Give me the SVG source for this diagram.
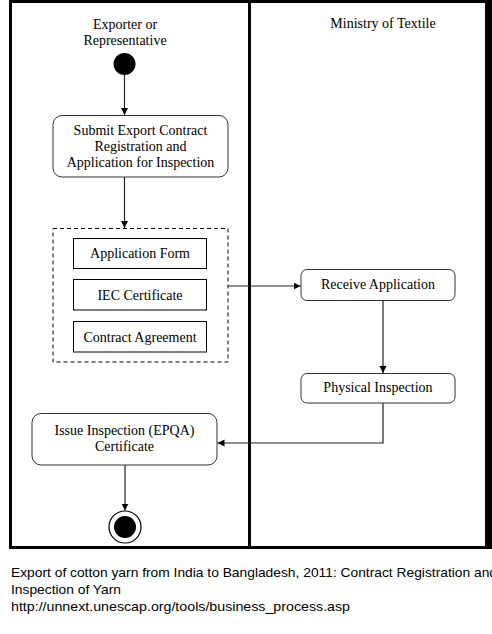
<svg xmlns="http://www.w3.org/2000/svg" width="492" height="634" viewBox="0 0 492 634">
<defs>
<marker id="ah" markerWidth="8" markerHeight="8" refX="7" refY="4" orient="auto" markerUnits="userSpaceOnUse">
<path d="M0,0.5 L7,4 L0,7.5 Z" fill="#000"/>
</marker>
<style>
.t{font-family:"Liberation Serif","Times New Roman",serif;font-size:14px;fill:#000;text-anchor:middle}
.c{font-family:"Liberation Sans",Arial,sans-serif;font-size:13.5px;fill:#000}
.act{fill:#fff;stroke:#333;stroke-width:1}
.doc{fill:#fff;stroke:#000;stroke-width:1}
.ln{fill:none;stroke:#222;stroke-width:1.2}
</style>
</defs>
<rect width="492" height="634" fill="#fff"/>
<g id="frame">
<rect x="10.5" y="1.5" width="476" height="546" fill="none" stroke="#000" stroke-width="3"/>
<rect x="486" y="0" width="6" height="549" fill="#000"/>
<line x1="249.5" y1="0" x2="249.5" y2="548" stroke="#000" stroke-width="3"/>
</g>
<g id="lane-exporter">
<text class="t" x="125" y="29">Exporter or</text>
<text class="t" x="125" y="45">Representative</text>
</g>
<g id="lane-ministry">
<text class="t" x="383" y="28">Ministry of Textile</text>
</g>
<g id="start"><circle cx="124.5" cy="64" r="11" fill="#000"/></g>
<g id="submit">
<rect class="act" x="53" y="115.5" width="175" height="61.5" rx="9"/>
<text class="t" x="140.5" y="135">Submit Export Contract</text>
<text class="t" x="140.5" y="151">Registration and</text>
<text class="t" x="140.5" y="167">Application for Inspection</text>
</g>
<g id="documents">
<rect x="53" y="228.5" width="175" height="133.5" fill="none" stroke="#000" stroke-width="1" stroke-dasharray="4,3"/>
<g id="app-form">
<rect class="doc" x="73.5" y="238.5" width="133" height="30"/>
<text class="t" x="140" y="258">Application Form</text>
</g>
<g id="iec">
<rect class="doc" x="73.5" y="279.5" width="133" height="30.5"/>
<text class="t" x="140" y="299.5">IEC Certificate</text>
</g>
<g id="contract">
<rect class="doc" x="73.5" y="321.5" width="133" height="30.5"/>
<text class="t" x="140" y="341.5">Contract Agreement</text>
</g>
</g>
<g id="receive">
<rect class="act" x="301" y="269.5" width="154" height="31" rx="6"/>
<text class="t" x="378" y="289">Receive Application</text>
</g>
<g id="physical">
<rect class="act" x="301" y="373.5" width="154" height="29.5" rx="6"/>
<text class="t" x="378" y="392">Physical Inspection</text>
</g>
<g id="issue">
<rect class="act" x="32" y="413.5" width="185" height="51.5" rx="9"/>
<text class="t" x="124.5" y="435">Issue Inspection (EPQA)</text>
<text class="t" x="124.5" y="451">Certificate</text>
</g>
<g id="end">
<circle cx="125" cy="527" r="16" fill="#fff" stroke="#000" stroke-width="1.2"/>
<circle cx="125" cy="527" r="11" fill="#000"/>
</g>
<g id="connectors">
<line class="ln" x1="124.5" y1="75" x2="124.5" y2="115" marker-end="url(#ah)"/>
<line class="ln" x1="124.5" y1="177" x2="124.5" y2="228" marker-end="url(#ah)"/>
<line class="ln" x1="228" y1="286" x2="300.5" y2="286" marker-end="url(#ah)"/>
<line class="ln" x1="383" y1="300.5" x2="383" y2="373" marker-end="url(#ah)"/>
<polyline class="ln" points="383,403 383,443 217.5,443" marker-end="url(#ah)"/>
<line class="ln" x1="125" y1="465" x2="125" y2="510.5" marker-end="url(#ah)"/>
</g>
<g id="caption">
<text class="c" x="11" y="577" textLength="486" lengthAdjust="spacingAndGlyphs">Export of cotton yarn from India to Bangladesh, 2011: Contract Registration and</text>
<text class="c" x="11" y="594" textLength="110" lengthAdjust="spacingAndGlyphs">Inspection of Yarn</text>
<text class="c" x="11" y="611" textLength="339" lengthAdjust="spacingAndGlyphs">http://unnext.unescap.org/tools/business_process.asp</text>
</g>
</svg>
